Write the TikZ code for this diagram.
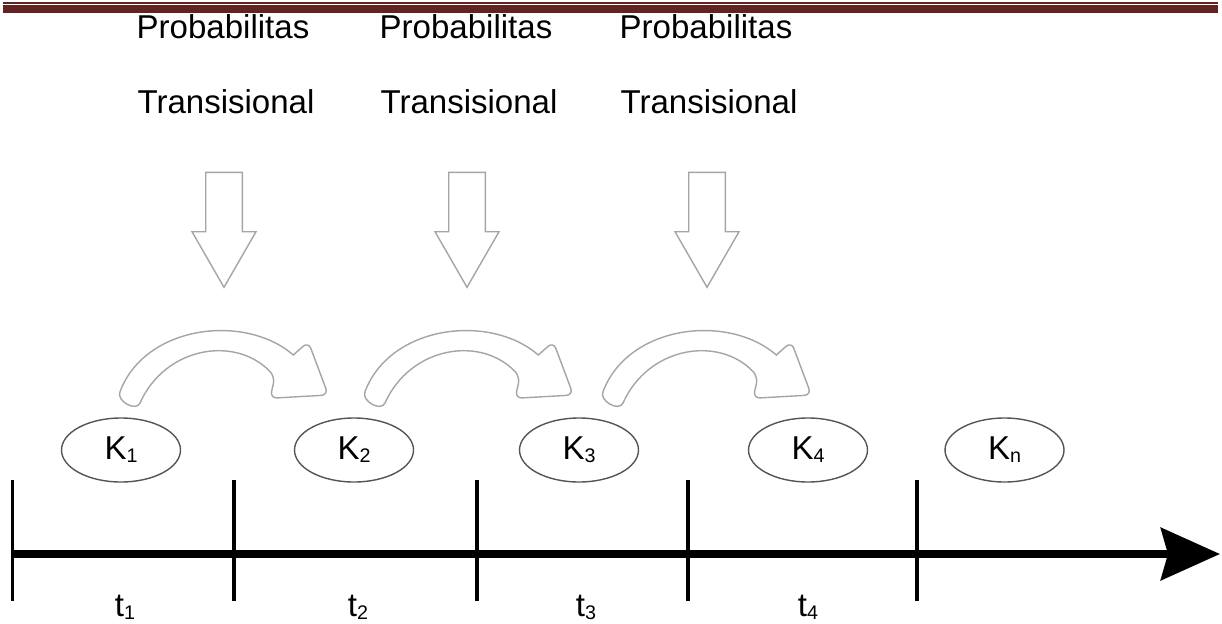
\documentclass[tikz,border=0pt]{standalone}
\usepackage{fontspec}
\setmainfont{Liberation Sans}
\usepackage{tikz}
\usetikzlibrary{shapes.geometric,arrows.meta,positioning}
\definecolor{mydarkred}{RGB}{98,36,35}
\definecolor{myoutline}{RGB}{165,165,165}
\definecolor{myedge}{RGB}{85,85,85}
\newcommand{\lowidx}[1]{\raisebox{-0.9pt}{\fontsize{5.6}{6}\selectfont #1}}
\tikzstyle{state}=[draw=myedge,line width=0.4pt,ellipse,minimum width=1.19cm,minimum height=0.64cm,inner sep=0pt,font=\fontsize{9.4}{11}\selectfont]
\tikzstyle{caption}=[anchor=base,inner sep=0pt,font=\fontsize{9.4}{11}\selectfont]
\tikzstyle{tick}=[line width=1pt]
\tikzstyle{timeline}=[line width=2.3pt,-{Stealth[length=0.59cm,width=0.52cm,inset=0.07cm]}]
\tikzset{
  downarrow/.pic={
    \draw[myoutline,fill=white,line width=0.4pt] (-0.183,1.15) -- (0.183,1.15) -- (0.183,0.556) -- (0.32,0.556)
      -- (0,0) -- (-0.32,0.556) -- (-0.183,0.556) -- cycle;
  },
  bendarrow/.pic={
    \draw[myoutline,fill=white,line width=0.4pt] (0,0.113) .. controls (0.25,0.78) and (1.25,0.90) .. (1.733,0.48)
      [rounded corners=2pt] -- (1.883,0.613) -- (2.083,0.08) -- (1.50,0.047) -- (1.55,0.263) [sharp corners]
      .. controls (1.15,0.68) and (0.45,0.56) .. (0.2,0)
      .. controls (0.16,-0.09) and (-0.04,0.02) .. (0,0.113) -- cycle;
  }
}

\begin{document}
\begin{tikzpicture}
\useasboundingbox (0,0) rectangle (12.22,6.23);
\fill[mydarkred] (0.03,6.19) rectangle (12.18,6.205);
\fill[mydarkred] (0.03,6.095) rectangle (12.18,6.177);

\draw (2.23,5.847) node [caption] (p1) {Probabilitas};
\draw (2.26,5.097) node [caption] (tr1) {Transisional};
\draw (4.66,5.847) node [caption] (p2) {Probabilitas};
\draw (4.69,5.097) node [caption] (tr2) {Transisional};
\draw (7.06,5.847) node [caption] (p3) {Probabilitas};
\draw (7.09,5.097) node [caption] (tr3) {Transisional};

\pic (d1) at (2.24,3.357) {downarrow};
\pic (d2) at (4.67,3.357) {downarrow};
\pic (d3) at (7.07,3.357) {downarrow};

\pic (c1) at (1.2,2.2) {bendarrow};
\pic (c2) at (3.65,2.2) {bendarrow};
\pic (c3) at (6.03,2.2) {bendarrow};

\draw (1.21,1.73) node [state] (k1) {K\lowidx{1}};
\draw (3.54,1.73) node [state] (k2) {K\lowidx{2}};
\draw (5.79,1.73) node [state] (k3) {K\lowidx{3}};
\draw (8.08,1.73) node [state] (k4) {K\lowidx{4}};
\draw (10.045,1.73) node [state] (kn) {K\lowidx{n}};

\coordinate (start) at (0.117,0.69);
\coordinate (end) at (12.20,0.69);
\draw[timeline] (start) -- (end);
\draw[tick] (0.127,1.43) -- (0.127,0.225);
\draw[tick] (2.34,1.43) -- (2.34,0.225);
\draw[tick] (4.77,1.43) -- (4.77,0.225);
\draw[tick] (6.88,1.43) -- (6.88,0.225);
\draw[tick] (9.17,1.43) -- (9.17,0.225);

\draw (1.25,0.065) node [caption] (t1) {t\lowidx{1}};
\draw (3.58,0.065) node [caption] (t2) {t\lowidx{2}};
\draw (5.86,0.065) node [caption] (t3) {t\lowidx{3}};
\draw (8.08,0.065) node [caption] (t4) {t\lowidx{4}};
\end{tikzpicture}
\end{document}
